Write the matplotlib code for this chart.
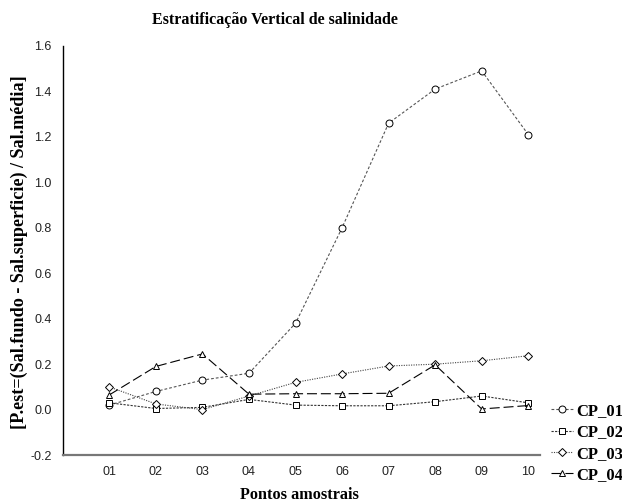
import numpy as np
import matplotlib
matplotlib.use('Agg')
import matplotlib.pyplot as plt

pontos = ['01', '02', '03', '04', '05', '06', '07', '08', '09', '10']
cp_01 = [0.02, 0.08, 0.13, 0.16, 0.38, 0.80, 1.26, 1.41, 1.49, 1.21]
cp_02 = [0.03, 0.005, 0.01, 0.045, 0.02, 0.017, 0.017, 0.035, 0.06, 0.03]
cp_03 = [0.10, 0.025, 0.0, 0.06, 0.12, 0.157, 0.192, 0.20, 0.215, 0.237]
cp_04 = [0.065, 0.19, 0.245, 0.068, 0.07, 0.07, 0.072, 0.197, 0.003, 0.018]
nomes = ['CP_01', 'CP_02', 'CP_03', 'CP_04']

serif = ['Liberation Serif', 'DejaVu Serif']
sans = ['Liberation Sans', 'DejaVu Sans']

fig = plt.figure(figsize=(6.22, 5.04), dpi=100)
ax = fig.add_axes([0.101, 0.097, 0.767, 0.812])

ind = np.arange(len(pontos))
estilo = dict(markerfacecolor='white', markeredgecolor='black',
              markeredgewidth=0.7, linewidth=0.8)

ax.plot(ind, cp_01, color='#555555', marker='o', markersize=5, dashes=(2.5, 1.8), label=nomes[0], **estilo)
ax.plot(ind, cp_02, color='#333333', marker='s', markersize=5, dashes=(2, 1.2), label=nomes[1], **estilo)
ax.plot(ind, cp_03, color='#444444', marker='D', markersize=4.2, dashes=(1, 1.2), label=nomes[2], **estilo)
ax.plot(ind, cp_04, color='black', marker='^', markersize=5, dashes=(9, 3.5), label=nomes[3], **estilo)

ax.set_xlim(-1.0, 9.25)
ax.set_ylim(-0.2, 1.6)
ax.set_yticks(np.arange(-0.2, 1.61, 0.2))
ax.set_yticklabels(['%.1f' % v for v in np.arange(-0.2, 1.61, 0.2)])
ax.set_xticks(ind)
ax.set_xticklabels(pontos)
ax.tick_params(length=0, pad=8, labelsize=9, labelcolor='#222222')
for lab in ax.get_xticklabels() + ax.get_yticklabels():
    lab.set_family(sans)

ax.spines['top'].set_visible(False)
ax.spines['right'].set_visible(False)
ax.spines['left'].set_linewidth(1.0)
ax.spines['bottom'].set_color('#777777')
ax.spines['bottom'].set_linewidth(1.6)

fig.text(0.442, 0.96, 'Estratificação Vertical de salinidade', ha='center', va='center',
         fontsize=11.5, fontweight='bold', family=serif)
fig.text(0.482, 0.018, 'Pontos amostrais', ha='center', va='center',
         fontsize=11.7, fontweight='bold', family=serif)
fig.text(0.031, 0.50, '[P.est=(Sal.fundo - Sal.superficie) / Sal.média]', rotation=90,
         ha='center', va='center', fontsize=13.1, fontweight='bold', family=serif)

leg = fig.legend(loc='center left', bbox_to_anchor=(0.886, 0.121), frameon=False,
                 borderpad=0, borderaxespad=0,
                 handlelength=1.3, handletextpad=0.2, labelspacing=0.32,
                 prop={'family': serif, 'weight': 'bold', 'size': 12})

fig.savefig('out.png', dpi=100)
plt.close(fig)
